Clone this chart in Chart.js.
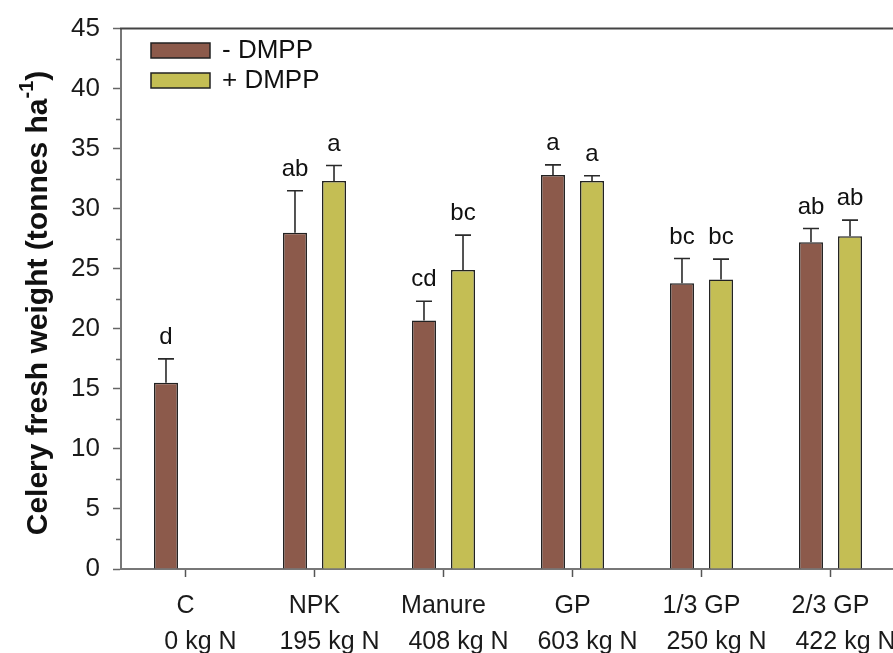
<!DOCTYPE html>
<html>
<head>
<meta charset="utf-8">
<script src="https://cdn.jsdelivr.net/npm/chart.js@4.4.0/dist/chart.umd.min.js"></script>
<style>
html, body { margin: 0; padding: 0; overflow: hidden; background: #fff; }
#wrap { width: 900px; height: 653px; }
</style>
</head>
<body>
<div id="wrap"><canvas id="chart"></canvas></div>
<script>
const categories = ["C", "NPK", "Manure", "GP", "1/3 GP", "2/3 GP"]
const doses = ["0 kg N", "195 kg N", "408 kg N", "603 kg N", "250 kg N", "422 kg N"]
const minusDmpp = [15.5, 28.0, 20.7, 32.8, 23.8, 27.2]
const minusErr = [2.0, 3.5, 1.6, 0.85, 2.05, 1.15]
const minusLetters = ["d", "ab", "cd", "a", "bc", "ab"]
const plusDmpp = [null, 32.3, 24.9, 32.3, 24.1, 27.7]
const plusErr = [null, 1.3, 2.9, 0.45, 1.7, 1.35]
const plusLetters = ["", "a", "bc", "a", "bc", "ab"]
const yTicks = [0, 5, 10, 15, 20, 25, 30, 35, 40, 45]
const yMinorTicks = [2.5, 7.5, 12.5, 17.5, 22.5, 27.5, 32.5, 37.5, 42.5]
const seriesNames = ["- DMPP", "+ DMPP"]

const FONT = 'Arial, "Liberation Sans", sans-serif'
const errors = [minusErr, plusErr]
const letters = [minusLetters, plusLetters]

const extras = {
    id: "extras",
    afterDatasetsDraw(chart) {
        const ctx = chart.ctx
        const y = chart.scales.y
        ctx.save()
        ctx.strokeStyle = "#2a2a2a"
        ctx.lineWidth = 1.6
        ctx.fillStyle = "#111"
        ctx.font = "24px " + FONT
        ctx.textAlign = "center"
        ctx.textBaseline = "alphabetic"
        chart.data.datasets.forEach((ds, d) => {
            const meta = chart.getDatasetMeta(d)
            meta.data.forEach((bar, i) => {
                const v = ds.data[i]
                if (v === null) return
                const top = y.getPixelForValue(v + errors[d][i])
                ctx.beginPath()
                ctx.moveTo(bar.x, bar.y)
                ctx.lineTo(bar.x, top)
                ctx.moveTo(bar.x - 8, top)
                ctx.lineTo(bar.x + 8, top)
                ctx.stroke()
                ctx.fillText(letters[d][i], bar.x, top - 15)
            })
        })
        ctx.restore()
    },
    afterDraw(chart) {
        const ctx = chart.ctx
        const area = chart.chartArea
        const y = chart.scales.y
        const x = chart.scales.x
        ctx.save()

        // top frame line
        ctx.strokeStyle = "#444"
        ctx.lineWidth = 2
        ctx.beginPath()
        ctx.moveTo(area.left - 1, area.top)
        ctx.lineTo(chart.width, area.top)
        ctx.stroke()

        // minor y ticks
        ctx.strokeStyle = "#666"
        ctx.lineWidth = 1.5
        yMinorTicks.forEach(v => {
            const py = Math.round(y.getPixelForValue(v)) + 0.5
            ctx.beginPath()
            ctx.moveTo(area.left - 5, py)
            ctx.lineTo(area.left, py)
            ctx.stroke()
        })

        // second row of x labels
        ctx.fillStyle = "#1a1a1a"
        ctx.font = "25px " + FONT
        ctx.textAlign = "center"
        ctx.textBaseline = "alphabetic"
        doses.forEach((t, i) => {
            ctx.fillText(t, x.getPixelForTick(i) + 15, area.bottom + 80)
        })

        // legend
        ctx.font = "26px " + FONT
        ctx.textAlign = "left"
        ctx.textBaseline = "middle"
        chart.data.datasets.forEach((ds, d) => {
            const cy = 50 + d * 30
            ctx.fillStyle = ds.backgroundColor
            ctx.fillRect(151, cy - 7, 59, 15)
            ctx.strokeStyle = "#222"
            ctx.lineWidth = 1.5
            ctx.strokeRect(151, cy - 7, 59, 15)
            ctx.fillStyle = "#111"
            ctx.fillText(ds.label, 222, cy + 1)
        })

        // y title with superscript
        const main = "Celery fresh weight (tonnes ha"
        const sup = "-1"
        const tail = ")"
        ctx.translate(47, 303)
        ctx.rotate(-Math.PI / 2)
        ctx.fillStyle = "#111"
        ctx.textBaseline = "alphabetic"
        ctx.font = "bold 30px " + FONT
        const w1 = ctx.measureText(main).width
        const w3 = ctx.measureText(tail).width
        ctx.font = "bold 20px " + FONT
        const w2 = ctx.measureText(sup).width
        let sx = -(w1 + w2 + w3) / 2
        ctx.font = "bold 30px " + FONT
        ctx.fillText(main, sx, 0)
        sx += w1
        ctx.font = "bold 20px " + FONT
        ctx.fillText(sup, sx, -14)
        sx += w2
        ctx.font = "bold 30px " + FONT
        ctx.fillText(tail, sx, 0)

        ctx.restore()
    }
}

const ctx = document.querySelector("#chart")
const chart = new Chart(ctx, {
    type: "bar",
    data: {
        labels: categories,
        datasets: [
            {
                label: seriesNames[0],
                data: minusDmpp,
                backgroundColor: "#8c5a4b",
                borderColor: "#222",
                borderWidth: 1.5
            },
            {
                label: seriesNames[1],
                data: plusDmpp,
                backgroundColor: "#c4be54",
                borderColor: "#222",
                borderWidth: 1.5
            }
        ]
    },
    options: {
        responsive: true,
        maintainAspectRatio: false,
        animation: false,
        categoryPercentage: 0.605,
        barPercentage: 0.615,
        layout: { padding: { top: 27, right: 5, left: 0, bottom: 0 } },
        plugins: {
            legend: { display: false },
            tooltip: { enabled: false }
        },
        scales: {
            x: {
                afterFit: (scale) => { scale.height = 84 },
                grid: {
                    offset: false,
                    drawOnChartArea: false,
                    tickLength: 8,
                    tickColor: "#555",
                    tickWidth: 1.5
                },
                border: { color: "#777", width: 2 },
                ticks: {
                    color: "#1a1a1a",
                    font: { family: FONT, size: 25 },
                    padding: 14,
                    autoSkip: false,
                    maxRotation: 0
                }
            },
            y: {
                min: 0,
                max: 45,
                afterFit: (scale) => { scale.width = 121 },
                afterBuildTicks: (scale) => { scale.ticks = yTicks.map(v => ({ value: v })) },
                grid: {
                    drawOnChartArea: false,
                    tickLength: 8,
                    tickColor: "#666",
                    tickWidth: 1.5
                },
                border: { color: "#777", width: 2 },
                ticks: {
                    color: "#1a1a1a",
                    font: { family: FONT, size: 26 },
                    padding: 13
                }
            }
        }
    },
    plugins: [extras]
})
</script>
</body>
</html>
